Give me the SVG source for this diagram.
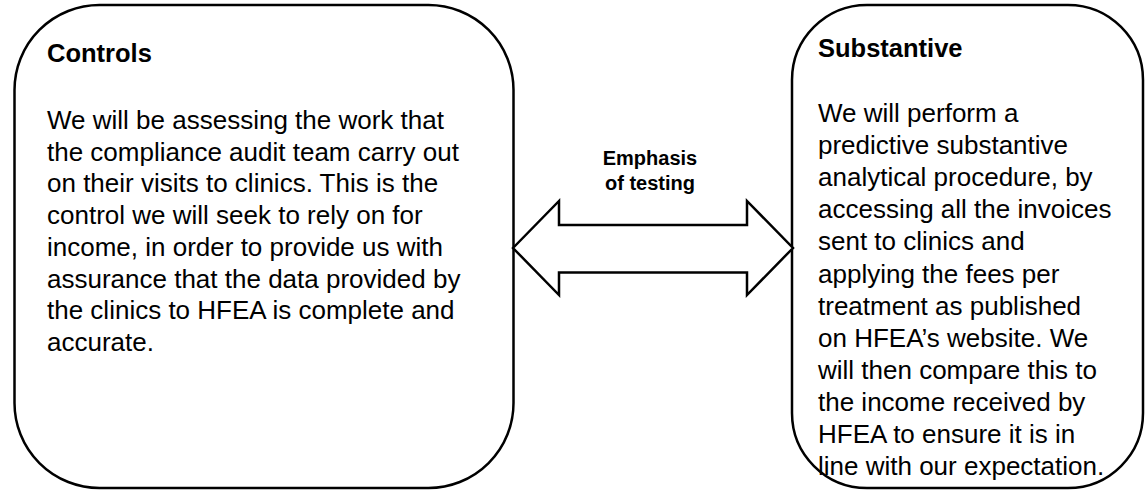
<svg xmlns="http://www.w3.org/2000/svg" width="1147" height="490" viewBox="0 0 1147 490">
<style>
.box{fill:#fff;stroke:#000;stroke-width:2.5}
.arrow{fill:#fff;stroke:#000;stroke-width:2.5;stroke-linejoin:miter}
.h{font-family:"Liberation Sans",Arial,sans-serif;font-weight:bold;font-size:25.5px;fill:#000}
.b{font-family:"Liberation Sans",Arial,sans-serif;font-size:26px;fill:#000}
.l{font-family:"Liberation Sans",Arial,sans-serif;font-weight:bold;font-size:20px;fill:#000;text-anchor:middle}
</style>
<rect width="1147" height="490" fill="#fff"/>
<g id="controls">
<rect class="box" x="14.5" y="5" width="499" height="483" rx="85" ry="85"/>
<text class="h" x="47" y="62">Controls</text>
<text class="b" x="47">
<tspan x="47" y="129">We will be assessing the work that</tspan>
<tspan x="47" y="160.7">the compliance audit team carry out</tspan>
<tspan x="47" y="192.4">on their visits to clinics. This is the</tspan>
<tspan x="47" y="224.1">control we will seek to rely on for</tspan>
<tspan x="47" y="255.8">income, in order  to provide us with</tspan>
<tspan x="47" y="287.5">assurance that the data provided by</tspan>
<tspan x="47" y="319.2">the clinics to HFEA is complete and</tspan>
<tspan x="47" y="350.9">accurate.</tspan>
</text>
</g>
<g id="substantive">
<rect class="box" x="792" y="5" width="351" height="483" rx="75" ry="75"/>
<text class="h" x="818" y="57">Substantive</text>
<text class="b">
<tspan x="818" y="122">We will perform a</tspan>
<tspan x="818" y="154.1">predictive substantive</tspan>
<tspan x="818" y="186.2">analytical procedure, by</tspan>
<tspan x="818" y="218.3">accessing all the invoices</tspan>
<tspan x="818" y="250.4">sent to clinics and</tspan>
<tspan x="818" y="282.5">applying the fees per</tspan>
<tspan x="818" y="314.6">treatment as published</tspan>
<tspan x="818" y="346.7">on HFEA’s website. We</tspan>
<tspan x="818" y="378.8">will then compare this  to</tspan>
<tspan x="818" y="410.9">the income received by</tspan>
<tspan x="818" y="443">HFEA to ensure it is in</tspan>
<tspan x="818" y="475.1">line with our expectation.</tspan>
</text>
</g>
<g id="connectors">
<polygon class="arrow" points="513,248 559,201 559,225 747,225 747,201 793,248 747,295 747,272.5 559,272.5 559,295"/>
<text class="l"><tspan x="650" y="165">Emphasis</tspan><tspan x="650" y="190">of testing</tspan></text>
</g>
</svg>
